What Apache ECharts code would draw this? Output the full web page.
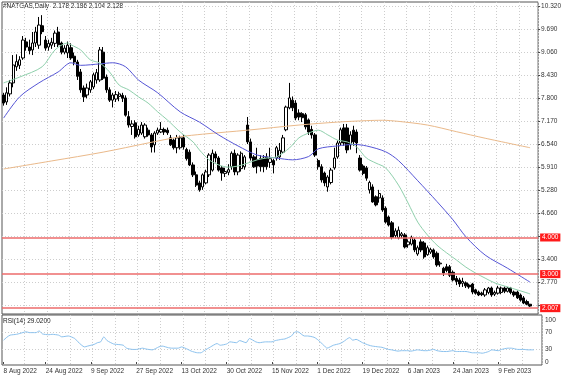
<!DOCTYPE html>
<html><head><meta charset="utf-8">
<script src="https://cdn.jsdelivr.net/npm/echarts@6/dist/echarts.min.js"></script>
<style>html,body{margin:0;padding:0;background:#fff}#c{width:564px;height:377px}</style>
</head><body><div id="c"></div>
<script>
// ---- data ----
const slotCount = 167; // bar slots on the x axis (last two empty: chart shift)
const categories = Array.from({length: slotCount}, (_, i) => String(i));
const dateTickIdx = [0,13,27,41,55,69,83,97,111,125,139,153];
const dateTickText = ['8 Aug 2022','24 Aug 2022','9 Sep 2022','27 Sep 2022','13 Oct 2022','30 Oct 2022','15 Nov 2022','1 Dec 2022','19 Dec 2022','6 Jan 2023','24 Jan 2023','9 Feb 2023'];

const opens = [
7.89,7.70,7.92,8.22,8.66,8.70,8.90,9.34,9.20,9.12,
9.31,9.25,9.78,9.39,9.20,9.25,9.30,9.61,9.31,9.06,
9.04,9.18,8.95,8.79,8.52,8.08,7.89,8.03,8.11,8.30,
8.30,9.06,8.38,8.03,7.75,7.78,7.85,7.88,7.81,7.30,
7.03,7.13,6.80,6.85,6.75,6.93,6.80,6.53,6.85,6.88,
6.95,6.93,6.72,6.66,6.45,6.45,6.72,6.40,6.33,5.98,
5.71,5.49,5.38,5.49,5.71,5.84,6.28,6.17,5.90,5.75,
5.78,5.93,6.30,5.79,5.88,5.93,7.07,6.61,6.20,6.12,
6.15,6.17,6.20,6.05,6.10,6.17,6.20,6.33,6.94,7.54,
7.75,7.67,7.40,7.38,7.35,7.21,6.95,6.80,6.10,5.93,
5.76,5.38,5.50,5.90,6.20,6.58,6.99,6.99,6.53,6.93,
6.88,6.17,5.95,5.90,5.30,5.38,5.11,5.08,5.08,4.80,
4.56,4.40,4.05,3.99,4.05,4.07,3.80,3.82,3.93,3.55,
3.88,3.85,3.53,3.60,3.66,3.57,3.28,3.16,3.20,3.20,
3.05,2.88,2.84,2.75,2.76,2.70,2.73,2.57,2.51,2.48,
2.43,2.50,2.62,2.45,2.48,2.50,2.62,2.53,2.62,2.51,
2.51,2.43,2.35,2.25,2.178];
const closes = [
7.67,7.95,8.22,8.71,8.80,8.85,9.39,9.20,9.10,9.31,
9.61,9.80,9.62,9.17,9.30,9.33,9.58,9.26,9.06,9.17,
9.25,8.90,8.79,8.40,8.03,7.84,8.08,8.25,8.44,8.50,
9.12,8.35,8.03,7.75,7.89,7.90,7.92,7.80,7.34,7.07,
7.10,6.75,6.95,7.07,7.07,6.80,6.47,6.85,6.93,6.95,
6.88,6.86,6.53,6.45,6.72,6.72,6.47,6.15,5.98,5.71,
5.43,5.30,5.71,5.79,6.25,6.30,6.17,5.84,5.76,5.80,
5.85,6.30,5.79,6.25,6.30,6.20,6.61,6.17,5.93,5.95,
5.93,5.93,5.93,6.15,5.98,6.45,6.38,6.72,7.56,7.81,
7.54,7.26,7.29,7.27,7.02,6.88,6.80,6.25,5.93,5.57,
5.49,5.65,5.84,6.17,6.58,6.94,6.58,6.39,6.80,6.61,
6.58,5.84,5.75,5.62,5.50,4.97,4.89,5.20,4.75,4.42,
4.34,4.00,4.18,4.20,4.10,3.74,3.88,4.00,3.66,3.72,
3.66,3.47,3.72,3.67,3.47,3.25,3.30,3.03,3.10,2.97,
2.84,2.80,2.73,2.80,2.68,2.65,2.51,2.48,2.43,2.44,
2.57,2.62,2.43,2.50,2.62,2.62,2.53,2.62,2.50,2.43,
2.35,2.29,2.21,2.18,2.128];
const lows = [
7.60,7.62,7.85,8.10,8.55,8.60,8.85,9.10,9.00,8.98,
9.20,9.15,9.55,9.10,9.10,9.15,9.20,9.20,9.00,9.00,
8.90,8.85,8.70,8.30,7.95,7.70,7.80,7.95,8.05,8.20,
8.25,8.30,7.95,7.70,7.55,7.70,7.72,7.70,7.30,7.00,
6.80,6.70,6.75,6.80,6.70,6.75,6.32,6.32,6.80,6.85,
6.80,6.80,6.50,6.40,6.30,6.40,6.40,6.10,5.95,5.65,
5.38,5.25,5.30,5.45,5.65,5.80,6.05,5.80,5.55,5.65,
5.70,5.85,5.70,5.70,5.80,5.85,6.55,6.10,5.90,5.75,
5.80,5.78,5.85,5.90,5.75,6.10,6.12,6.30,6.90,7.50,
7.45,7.20,7.20,7.15,6.95,6.80,6.70,6.20,5.85,5.50,
5.40,5.25,5.45,5.85,6.15,6.50,6.50,6.30,6.40,6.50,
6.30,5.80,5.70,5.55,5.20,4.95,4.85,4.95,4.70,4.38,
4.30,3.95,3.98,3.95,3.98,3.70,3.72,3.78,3.60,3.50,
3.60,3.42,3.50,3.55,3.42,3.20,3.20,2.95,3.05,2.92,
2.80,2.70,2.65,2.65,2.62,2.60,2.45,2.44,2.40,2.40,
2.38,2.45,2.38,2.40,2.44,2.45,2.48,2.50,2.45,2.38,
2.32,2.25,2.18,2.15,2.104];
const highs = [
7.95,8.10,8.30,8.98,9.00,8.95,9.50,9.45,9.40,9.61,
9.75,10.02,10.07,9.50,9.40,9.45,9.65,9.75,9.35,9.25,
9.35,9.30,9.05,8.85,8.60,8.15,8.20,8.30,8.50,8.60,
9.20,9.20,8.45,8.10,7.95,8.00,7.98,7.95,7.88,7.45,
7.20,7.20,7.05,7.15,7.12,7.00,6.85,6.90,7.00,7.15,
7.00,7.00,6.80,6.70,6.80,6.78,6.80,6.45,6.40,6.05,
5.80,5.55,5.75,5.85,6.30,6.40,6.35,6.22,5.95,5.90,
6.00,6.35,6.40,6.30,6.35,6.25,7.29,6.70,6.25,6.45,
6.25,6.25,6.30,6.45,6.15,6.50,6.58,6.80,7.60,8.22,
7.85,7.75,7.50,7.42,7.40,7.25,7.05,6.85,6.15,6.00,
5.80,5.70,5.90,6.45,6.65,7.00,7.10,7.10,6.90,7.05,
6.95,6.25,6.00,5.95,5.55,5.45,5.15,5.30,5.15,4.85,
4.60,4.45,4.25,4.30,4.15,4.12,3.95,4.05,3.98,3.78,
3.95,3.90,3.78,3.72,3.70,3.62,3.35,3.20,3.28,3.25,
3.10,2.95,2.90,2.90,2.80,2.74,2.76,2.60,2.55,2.52,
2.62,2.65,2.66,2.55,2.68,2.66,2.66,2.65,2.65,2.55,
2.55,2.47,2.40,2.30,2.186];

// moving averages: [bar index, value]
const maFast = [[0,8.22],[5,8.38],[12,8.66],[16,9.12],[20,9.31],[21,9.26],[24,9.12],[27,8.85],[30,8.76],[33,8.52],[36,8.16],[39,8.03],[42,7.84],[45,7.67],[48,7.43],[51,7.21],[55,6.88],[59,6.61],[61,6.39],[64,6.12],[67,5.98],[70,5.92],[73,5.95],[76,6.03],[79,6.12],[82,6.17],[85,6.20],[89,6.44],[92,6.72],[95,6.85],[98,6.93],[101,6.80],[104,6.66],[107,6.61],[110,6.47],[113,6.17],[116,6.03],[119,5.90],[123,5.43],[126,4.94],[129,4.42],[132,4.07],[135,3.79],[138,3.58],[141,3.39],[144,3.19],[147,3.03],[150,2.89],[153,2.76],[157,2.65],[160,2.57],[164,2.46]];
const maMid = [[0,7.26],[5,7.84],[11,8.22],[17,8.52],[21,8.77],[24,8.70],[30,8.74],[34,8.77],[38,8.66],[42,8.30],[48,7.95],[55,7.43],[61,7.15],[67,6.80],[73,6.50],[79,6.25],[85,6.17],[90,6.12],[95,6.21],[98,6.42],[104,6.50],[109,6.54],[113,6.50],[119,6.34],[123,6.10],[129,5.55],[135,4.98],[140,4.48],[144,4.02],[150,3.52],[157,3.16],[164,2.78]];
const maSlow = [[0,5.87],[15,6.09],[31,6.33],[45,6.58],[55,6.75],[62,6.82],[76,6.93],[92,7.07],[104,7.15],[113,7.19],[118,7.20],[123,7.17],[132,7.07],[141,6.89],[150,6.71],[164,6.45]];
const rsi = [[0,52],[1,59],[2,64],[4,66],[5,68],[7,72],[8,70],[10,70],[11,74],[12,67],[14,65],[15,66],[17,64],[18,60],[20,62],[22,56],[23,48],[25,36],[26,38],[28,42],[29,46],[30,48],[31,60],[32,51],[34,43],[35,42],[37,40],[38,33],[40,30],[41,30],[43,33],[44,31],[46,29],[48,36],[49,38],[51,34],[52,33],[54,33],[55,36],[57,30],[58,26],[60,22],[61,22],[62,27],[64,36],[66,44],[67,40],[69,43],[70,48],[72,46],[73,51],[75,46],[76,56],[78,48],[79,46],[81,48],[83,48],[84,51],[86,54],[87,55],[89,62],[90,71],[91,72],[93,62],[94,62],[96,59],[97,54],[99,40],[100,33],[102,40],[104,44],[105,48],[107,58],[108,52],[109,54],[111,46],[113,40],[114,38],[116,36],[117,35],[119,30],[120,29],[122,26],[123,27],[125,27],[126,26],[128,29],[130,27],[131,27],[133,30],[134,27],[136,25],[137,25],[139,27],[140,25],[142,25],[143,25],[145,22],[147,22],[148,21],[150,25],[151,29],[153,27],[154,30],[156,33],[157,33],[159,30],[161,30],[162,29],[164,29]];

const priceGrid = [10.32,9.69,9.06,8.43,7.80,7.17,6.54,5.91,5.28,4.66,4.03,3.40,2.77,2.14];
const priceLabels = [10.32,9.69,9.06,8.43,7.80,7.17,6.54,5.91,5.28,4.66,3.40,2.77];
const levelValues = [4.0, 3.0, 2.07];
const levelText = ['4.000','3.000','2.007'];
const rsiLabels = [0,30,70,100];
const rsiGrid = [30,70];
const headerText = '#NATGAS,Daily  2.178 2.186 2.104 2.128';
const rsiHeader = 'RSI(14) 29.0200';

// ---- chart ----
const FONT = 'Liberation Sans, Arial, sans-serif';
const chart = echarts.init(document.getElementById('c'), null, {renderer: 'canvas'});
const dotted = {color: '#cdcdcd', type: [1, 2], width: 1};
const candleData = opens.map((o, i) => [o, closes[i], lows[i], highs[i]]);
const isTick = (i) => dateTickIdx.indexOf(i) >= 0;

chart.setOption({
  animation: false,
  backgroundColor: '#ffffff',
  textStyle: {fontFamily: FONT},
  grid: [
    {left: 2, right: 22, top: 2, bottom: 63, show: true, borderColor: '#555', borderWidth: 1},
    {left: 2, right: 22, top: 315, bottom: 12, show: true, borderColor: '#555', borderWidth: 1}
  ],
  xAxis: [
    {type: 'category', gridIndex: 0, data: categories, boundaryGap: true,
     axisLine: {show: false}, axisTick: {show: false}, axisLabel: {show: false},
     splitLine: {show: true, interval: (i) => i > 0 && i % 7 === 0, lineStyle: dotted}},
    {type: 'category', gridIndex: 1, data: categories, boundaryGap: true,
     axisLine: {show: false},
     axisTick: {show: true, interval: isTick, alignWithLabel: true, length: 2, lineStyle: {color: '#444'}},
     axisLabel: {show: true, interval: isTick, align: 'left', margin: 3, fontSize: 6.5, color: '#333', fontFamily: FONT,
       formatter: (v, i) => dateTickText[dateTickIdx.indexOf(Number(v))] || ''},
     splitLine: {show: true, interval: (i) => i > 0 && i % 7 === 0, lineStyle: dotted}}
  ],
  yAxis: [
    {type: 'value', gridIndex: 0, position: 'right', min: 1.911, max: 10.429,
     axisLine: {show: false},
     axisTick: {show: true, customValues: priceGrid, length: 2, lineStyle: {color: '#444'}},
     axisLabel: {customValues: priceLabels, formatter: (v) => v.toFixed(3), fontSize: 6.5, color: '#333', margin: 3, fontFamily: FONT},
     splitLine: {show: true, lineStyle: dotted}},
    {type: 'value', gridIndex: 1, position: 'right', min: -7.1, max: 112,
     axisLine: {show: false},
     axisTick: {show: false, customValues: rsiGrid},
     axisLabel: {customValues: rsiLabels, fontSize: 6.5, color: '#333', margin: 3, fontFamily: FONT},
     splitLine: {show: true, lineStyle: dotted}}
  ],
  series: [
    {type: 'candlestick', xAxisIndex: 0, yAxisIndex: 0, data: candleData, barWidth: 2.8,
     itemStyle: {color: '#ffffff', color0: '#000000', borderColor: '#000000', borderColor0: '#000000', borderWidth: 1},
     markLine: {silent: true, symbol: ['none', 'none'], animation: false,
       lineStyle: {color: '#ec6b6b', width: 1.5, type: 'solid'},
       label: {show: true, position: 'end', formatter: '{b}', color: '#ffffff', backgroundColor: '#ff1a1a',
               fontSize: 6.5, padding: [1, 2, 0, 2], distance: 2, fontFamily: FONT},
       data: levelValues.map((v, k) => ({yAxis: v, name: levelText[k]}))}},
    {type: 'line', xAxisIndex: 0, yAxisIndex: 0, data: maSlow, showSymbol: false, smooth: 0.3,
     lineStyle: {color: '#eab98a', width: 1}},
    {type: 'line', xAxisIndex: 0, yAxisIndex: 0, data: maMid, showSymbol: false, smooth: 0.3,
     lineStyle: {color: '#5656d6', width: 1}},
    {type: 'line', xAxisIndex: 0, yAxisIndex: 0, data: maFast, showSymbol: false, smooth: 0.3,
     lineStyle: {color: '#8fd0ac', width: 1}},
    {type: 'line', xAxisIndex: 1, yAxisIndex: 1, data: rsi, showSymbol: false, smooth: 0.2,
     lineStyle: {color: '#8cc2ee', width: 1}}
  ],
  graphic: [
    {type: 'text', left: 3, top: 3, style: {text: headerText, font: '6.5px ' + FONT, fill: '#222'}},
    {type: 'text', left: 3, top: 318, style: {text: rsiHeader, font: '6.5px ' + FONT, fill: '#222'}}
  ]
});
</script></body></html>
